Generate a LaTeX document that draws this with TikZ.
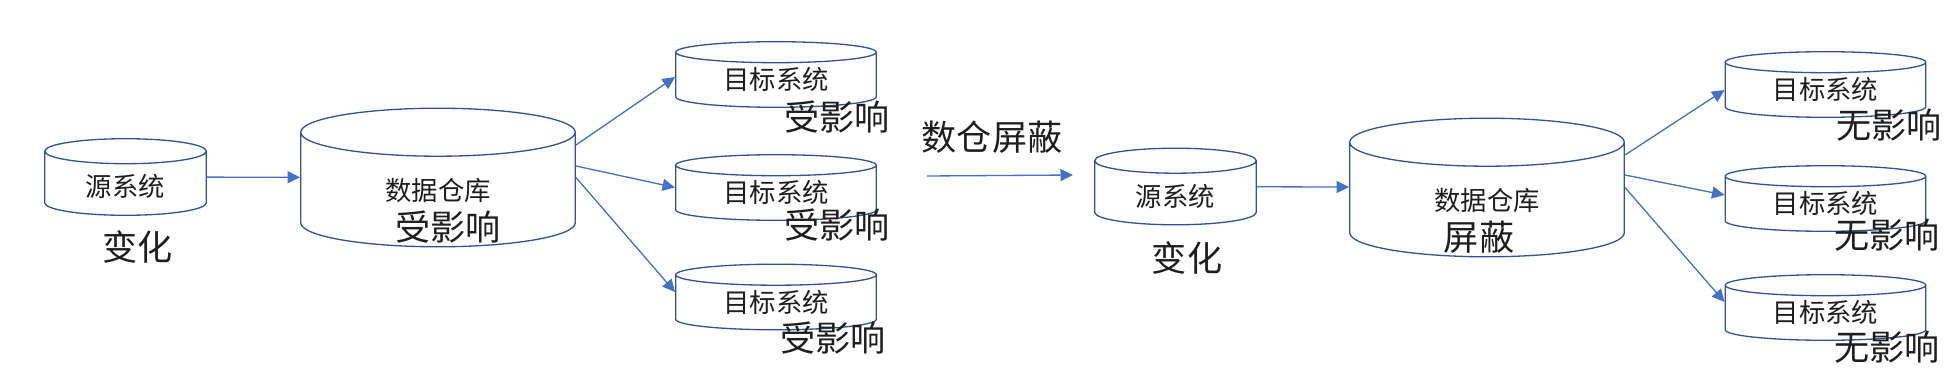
\documentclass[tikz,border=0pt]{standalone}
\usepackage{fontspec}
\setmainfont{Noto Sans CJK SC}
\usepackage{tikz}
\usetikzlibrary{arrows.meta, positioning, calc}
\definecolor{linkblue}{RGB}{68,114,196}
\definecolor{edgeblue}{RGB}{47,85,151}
\definecolor{inkgray}{RGB}{30,30,30}
\tikzset{
  db/.style={
    rectangle, inner sep=0pt, outer sep=0pt, text centered, text depth=0pt,
    font=\fontsize{15}{18}\selectfont, text=inkgray,
    path picture={
      \draw[edgeblue, line width=0.75pt]
        let \p1=(path picture bounding box.north west),
            \p2=(path picture bounding box.south east),
            \n1={(\x2-\x1)/2-0.4pt}, \n2={#1} in
        (\x1+0.4pt,\y1-0.4pt-\n2) arc[start angle=180, end angle=-180,
          x radius=\n1, y radius=\n2]
        (\x1+0.4pt,\y1-0.4pt-\n2) -- (\x1+0.4pt,\y2+0.4pt+\n2)
          arc[start angle=180, end angle=360, x radius=\n1, y radius=\n2]
          -- (\x2-0.4pt,\y1-0.4pt-\n2);
    }
  },
  srcdb/.style={db=0.25cm, minimum width=3.26cm, minimum height=1.56cm,
    text height=0.8cm},
  whdb/.style={db=0.48cm, minimum width=5.52cm, minimum height=2.8cm,
    text height=0.92cm},
  tgtdb/.style={db=0.21cm, minimum width=4.04cm, minimum height=1.34cm,
    text height=0.62cm},
  biglabel/.style={font=\fontsize{20}{24}\selectfont, text=inkgray, inner sep=0pt},
  arrowblue/.style={-{Triangle[length=0.25cm, width=0.24cm]}, line width=0.75pt,
    color=linkblue}
}
\begin{document}
\begin{tikzpicture}[x=0.02cm, y=-0.02cm]
  \useasboundingbox (0,0) rectangle (1957,385);

  % before: the warehouse passes the change on
  \node[srcdb] (src1) at (125.5,177) {源系统};
  \node[whdb] (dw1) at (438,177.5) {数据仓库};
  \node[tgtdb] (t11) at (776,74.5) {目标系统};
  \node[tgtdb] (t12) at (776,187.5) {目标系统};
  \node[tgtdb] (t13) at (776,297) {目标系统};

  \node[biglabel] (chg1) at (137.5,247) {变化};
  \node[biglabel] (imp1) at (448,227) {受影响};
  \node[biglabel] (hit11) at (837,117) {受影响};
  \node[biglabel] (hit12) at (837,225) {受影响};
  \node[biglabel] (hit13) at (833,338) {受影响};

  \draw[arrowblue] (src1) -- (dw1);
  \draw[arrowblue] ([yshift=0.65cm]dw1.east) -- ([yshift=-0.05cm]t11.west);
  \draw[arrowblue] ([yshift=0.23cm]dw1.east) -- (t12.west);
  \draw[arrowblue] (dw1.east) -- ([yshift=0.1cm]t13.west);

  % middle step
  \node[biglabel] (mask) at (992,137) {数仓屏蔽};
  \coordinate (maskfrom) at (927,176);
  \coordinate (maskto) at (1073,175);
  \draw[arrowblue] (maskfrom) -- (maskto);

  % after: the warehouse hides the change
  \node[srcdb] (src2) at (1175.5,186.5) {源系统};
  \node[whdb] (dw2) at (1487,187.5) {数据仓库};
  \node[tgtdb] (t21) at (1825.5,84.5) {目标系统};
  \node[tgtdb] (t22) at (1825.5,198.5) {目标系统};
  \node[tgtdb] (t23) at (1825.5,307.5) {目标系统};

  \node[biglabel] (chg2) at (1187,258) {变化};
  \node[biglabel] (blk) at (1479,237) {屏蔽};
  \node[biglabel] (none1) at (1889,125) {无影响};
  \node[biglabel] (none2) at (1887,235) {无影响};
  \node[biglabel] (none3) at (1887,347) {无影响};

  \draw[arrowblue] (src2) -- (dw2);
  \draw[arrowblue] ([yshift=0.65cm]dw2.east) -- ([yshift=-0.11cm]t21.west);
  \draw[arrowblue] ([yshift=0.25cm]dw2.east) -- ([yshift=0.07cm]t22.west);
  \draw[arrowblue] (dw2.east) -- ([yshift=0.11cm]t23.west);
\end{tikzpicture}
\end{document}
